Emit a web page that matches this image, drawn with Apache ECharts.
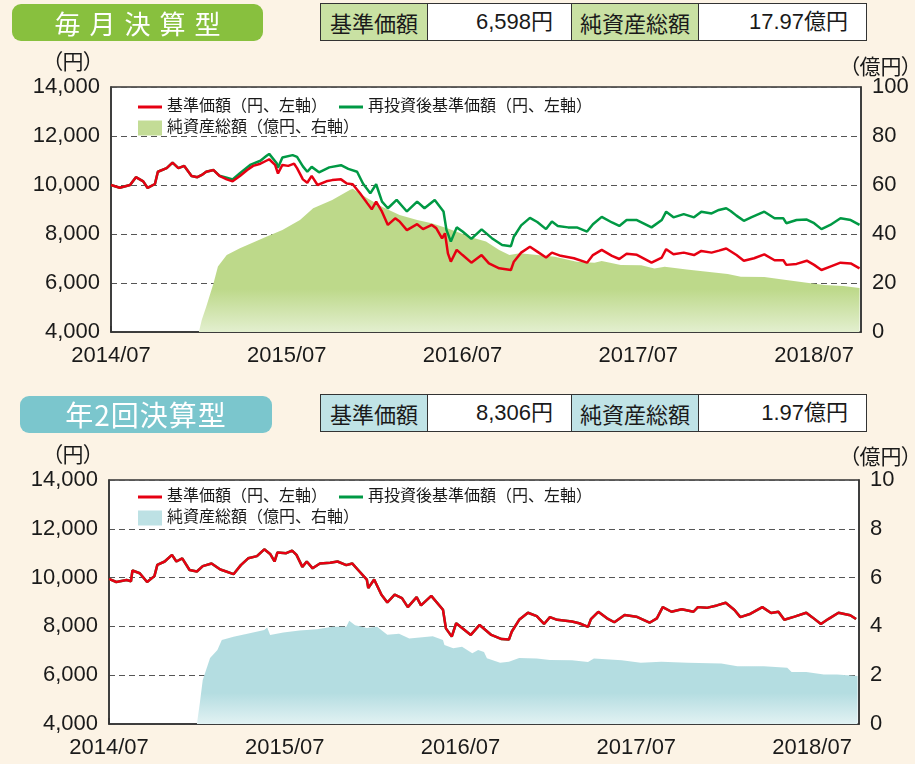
<!DOCTYPE html>
<html>
<head>
<meta charset="utf-8">
<script src="https://cdn.jsdelivr.net/npm/echarts@6/dist/echarts.min.js"></script>
<style>
  body { margin: 0; background: #fcf3e5; font-family: "Liberation Sans", "Noto Sans CJK JP", sans-serif; }
  #wrap { position: relative; width: 915px; height: 764px; }
  #chart { position: absolute; left: 0; top: 0; width: 915px; height: 764px; }
  .badge { position: absolute; color: #fff; text-align: center; border-radius: 9px;
           font-family: "Noto Sans CJK JP", sans-serif; }
  .tbl { position: absolute; border-collapse: collapse; font-size: 22px; color: #1a1a1a;
         font-family: "Liberation Sans", "Noto Sans CJK JP", sans-serif; }
  .tbl td { border: 1.5px solid #333; padding: 0; height: 36px; line-height: 36px; }
  .tbl td.lab { text-align: center; font-family: "Noto Sans CJK JP", sans-serif; }
  .tbl td.val { text-align: right; padding-right: 18px; background: #fff; }
  .unit { position: absolute; font-size: 21px; line-height: 24px; color: #1a1a1a;
          font-family: "Noto Sans CJK JP", sans-serif; font-feature-settings: "palt"; white-space: nowrap; }
</style>
</head>
<body>
<div id="wrap">
  <div id="chart"></div>
  <div class="badge" style="left:12px;top:4px;width:251px;height:37px;line-height:37px;background:#88c03e;font-size:26px;letter-spacing:9px;text-indent:9px;">毎月決算型</div>
  <table class="tbl" style="left:320px;top:3px;">
    <tr>
      <td class="lab" style="width:106px;background:#c9e1a3;">基準価額</td>
      <td class="val" style="width:125px;">6,598円</td>
      <td class="lab" style="width:126px;background:#c9e1a3;">純資産総額</td>
      <td class="val" style="width:149px;">17.97億円</td>
    </tr>
  </table>
  <div class="unit" style="left:52px;top:48px;">（円）</div>
  <div class="unit" style="left:849px;top:53px;">（億円）</div>

  <div class="badge" style="left:20px;top:396px;width:252px;height:37px;line-height:37px;background:#7bc6cd;font-size:28px;letter-spacing:1px;">年2回決算型</div>
  <table class="tbl" style="left:320px;top:394px;">
    <tr>
      <td class="lab" style="width:106px;background:#c0e3e6;">基準価額</td>
      <td class="val" style="width:125px;">8,306円</td>
      <td class="lab" style="width:126px;background:#c0e3e6;">純資産総額</td>
      <td class="val" style="width:149px;">1.97億円</td>
    </tr>
  </table>
  <div class="unit" style="left:52px;top:441px;">（円）</div>
  <div class="unit" style="left:849px;top:443px;">（億円）</div>
</div>
<script>
// x = months since 2014/07
var monthlyNav = [[0,10000],[0.6,9890],[1.3,10000],[1.7,10320],[2.2,10150],[2.5,9880],[3.0,10040],[3.2,10540],[3.8,10690],[4.2,10910],[4.6,10690],[5.0,10780],[5.5,10370],[5.9,10320],[6.2,10410],[6.5,10540],[7.0,10610],[7.4,10370],[7.9,10230],[8.3,10150],[8.8,10370],[9.3,10610],[9.7,10780],[10.2,10870],[10.6,10990],[10.8,11050],[11.2,10820],[11.4,10470],[11.7,10820],[12.1,10780],[12.5,10870],[12.7,10690],[13.1,10230],[13.4,10090],[13.7,10370],[14.1,10000],[14.7,10150],[15.1,10200],[15.7,10230],[16.1,10060],[16.5,10030],[17.0,9660],[17.5,9250],[17.8,9010],[18.1,9320],[18.5,8910],[18.9,8370],[19.4,8640],[19.7,8510],[20.2,8160],[20.9,8400],[21.3,8200],[21.9,8370],[22.2,8240],[22.6,7820],[22.8,8030],[23.0,7210],[23.2,6870],[23.6,7350],[24.0,7140],[24.6,6830],[25.3,7140],[25.8,6800],[26.5,6600],[27.3,6530],[27.5,6870],[28.0,7240],[28.6,7480],[29.1,7280],[29.7,7040],[30.1,7240],[30.7,7110],[31.6,7010],[32.5,6830],[32.9,7140],[33.5,7350],[34.2,7110],[34.7,6980],[35.2,7190],[35.9,7150],[36.9,6830],[37.6,7040],[37.9,7380],[38.4,7170],[39.1,7240],[39.8,7140],[40.3,7310],[41.0,7240],[41.5,7320],[42.0,7410],[42.7,7140],[43.2,6910],[43.9,7010],[44.6,7170],[45.3,6930],[45.9,6930],[46.1,6740],[46.8,6780],[47.5,6910],[48.0,6740],[48.5,6530],[49.1,6670],[49.8,6830],[50.5,6800],[51.1,6600]];

var monthlyReinvest = [[0,10000],[0.6,9890],[1.3,10000],[1.7,10320],[2.2,10150],[2.5,9880],[3.0,10040],[3.2,10540],[3.8,10690],[4.2,10910],[4.6,10690],[5.0,10780],[5.5,10370],[5.9,10320],[6.2,10410],[6.5,10540],[7.0,10610],[7.4,10380],[7.9,10300],[8.3,10230],[8.8,10480],[9.5,10820],[10.2,10990],[10.6,11180],[10.8,11270],[11.3,10900],[11.4,10700],[11.7,11120],[12.4,11220],[12.7,11150],[13.1,10760],[13.4,10540],[13.7,10740],[14.2,10520],[14.9,10720],[15.7,10810],[16.2,10660],[16.8,10540],[17.2,10060],[17.7,9660],[18.1,10030],[18.5,9320],[18.9,9050],[19.5,9390],[20.2,8920],[20.9,9320],[21.4,9050],[22.1,9390],[22.7,8920],[22.9,8170],[23.2,7690],[23.6,8270],[24.0,8100],[24.6,7800],[25.3,8190],[26.0,7830],[26.7,7550],[27.3,7500],[27.5,7890],[28.0,8350],[28.6,8660],[29.1,8490],[29.7,8200],[30.1,8510],[30.5,8330],[31.2,8270],[31.8,8270],[32.5,8100],[32.9,8400],[33.5,8700],[34.2,8470],[34.7,8330],[35.2,8570],[35.9,8570],[36.9,8270],[37.6,8570],[37.9,8910],[38.4,8680],[39.1,8810],[39.8,8680],[40.3,8910],[41.0,8840],[41.5,8980],[42.0,9050],[42.3,8940],[42.7,8750],[43.2,8540],[43.7,8680],[44.6,8910],[45.3,8640],[45.9,8640],[46.1,8440],[46.8,8570],[47.5,8590],[48.0,8440],[48.5,8200],[49.1,8370],[49.8,8640],[50.5,8570],[51.1,8370]];

var monthlyAssets = [[6.0,0],[6.2,5],[6.5,10.3],[7.0,19.9],[7.3,26.7],[7.9,31.4],[8.8,34.2],[9.7,36.5],[10.6,38.9],[11.7,41.6],[12.9,45.7],[13.8,50.5],[15.1,53.9],[16.3,58.0],[16.5,58.5],[17.5,54.6],[18.5,51.1],[19.7,47.8],[20.9,45.7],[21.9,44.4],[22.9,42.4],[23.6,40.9],[24.7,38.5],[25.6,36.9],[26.5,33.5],[27.2,31.4],[27.9,32.1],[29.1,31.4],[30.3,30.7],[31.8,28.7],[33.0,28.3],[33.5,29.0],[34.8,27.3],[36.2,27.2],[37.1,25.9],[37.8,26.6],[39.3,25.5],[40.7,24.6],[42.1,23.7],[43.0,22.6],[44.6,22.5],[46.1,21.2],[47.5,20.1],[48.7,19.2],[50.0,18.8],[51.1,18.0]];

var semiNav = [[0,9950],[0.5,9820],[1.2,9900],[1.5,9850],[1.6,10290],[2.1,10180],[2.6,9820],[3.1,10060],[3.3,10520],[3.8,10660],[4.3,10930],[4.6,10660],[5.0,10790],[5.5,10310],[6.0,10250],[6.4,10470],[7.0,10580],[7.6,10330],[8.0,10250],[8.5,10140],[9.0,10510],[9.5,10790],[10.1,10880],[10.6,11160],[11.0,10970],[11.3,10660],[11.5,11030],[12.1,11000],[12.5,11110],[12.8,10930],[13.2,10440],[13.5,10660],[13.9,10380],[14.4,10580],[15.1,10610],[15.6,10660],[16.2,10510],[16.6,10580],[17.1,10250],[17.6,9920],[17.7,9570],[18.1,9920],[18.6,9300],[19.0,8980],[19.5,9300],[20.0,9160],[20.4,8790],[21.0,9200],[21.3,8860],[22.0,9250],[22.8,8680],[23.0,7920],[23.4,7580],[23.7,8130],[24.7,7650],[25.3,8060],[26.1,7650],[26.8,7480],[27.3,7460],[27.5,7790],[28.0,8270],[28.6,8560],[29.2,8420],[29.7,8100],[30.1,8380],[30.6,8270],[31.6,8200],[32.1,8130],[32.7,7980],[32.9,8300],[33.4,8600],[34.0,8330],[34.5,8170],[35.2,8470],[36.0,8400],[36.9,8150],[37.4,8330],[37.8,8790],[38.4,8600],[39.1,8700],[39.9,8600],[40.2,8790],[40.8,8760],[41.5,8860],[42.1,8970],[42.7,8670],[43.1,8380],[43.8,8520],[44.6,8790],[45.2,8550],[45.7,8600],[46.1,8270],[46.8,8400],[47.6,8560],[48.0,8380],[48.6,8100],[49.1,8300],[49.8,8560],[50.6,8460],[51.0,8300]];

// no distributions paid, so the reinvested price equals the NAV
var semiReinvest = semiNav;

var semiAssets = [[6.0,0],[6.2,0.85],[6.4,1.8],[6.9,2.7],[7.4,3.03],[7.7,3.44],[8.5,3.58],[9.6,3.72],[10.6,3.85],[10.8,3.96],[11.0,3.65],[11.9,3.75],[13.0,3.83],[14.2,3.88],[15.3,3.99],[16.2,3.99],[16.4,4.23],[16.8,4.05],[17.6,3.93],[18.3,3.99],[19.0,3.66],[19.8,3.7],[20.5,3.5],[22.1,3.6],[22.8,3.44],[22.9,3.24],[23.5,3.1],[24.1,3.17],[24.8,2.9],[25.2,3.03],[25.6,2.95],[25.8,2.69],[26.7,2.51],[27.3,2.55],[28.0,2.7],[29.2,2.68],[30.1,2.62],[31.6,2.61],[32.7,2.54],[33.1,2.68],[35.0,2.61],[36.3,2.51],[37.7,2.55],[39.5,2.51],[41.8,2.48],[42.9,2.37],[44.7,2.37],[46.3,2.31],[46.6,2.13],[47.6,2.13],[48.8,2.03],[49.7,2.03],[51.1,1.97]];

var navName = '基準価額（円、左軸）';
var reinvName = '再投資後基準価額（円、左軸）';
var assetName = '純資産総額（億円、右軸）';

var RED = '#e60012', GREEN = '#009944';
var FONT = '"Liberation Sans", "Noto Sans CJK JP", sans-serif';

var chart = echarts.init(document.getElementById('chart'));

function xAxisCfg(grid) {
  return {
    type: 'value', gridIndex: grid, min: 0, max: 51.2, interval: 12,
    axisLine: { lineStyle: { color: '#333', width: 1.5 } },
    axisTick: { inside: true, length: 6, lineStyle: { color: '#333', width: 1.5 } },
    axisLabel: {
      fontSize: 22, color: '#1a1a1a', fontFamily: FONT, margin: 13, showMaxLabel: false,
      formatter: function (v) {
        var t = 6 + Math.round(v);
        var y = 2014 + Math.floor(t / 12), m = (t % 12) + 1;
        return y + '/' + (m < 10 ? '0' + m : m);
      }
    },
    splitLine: { show: false }
  };
}
function leftAxisCfg(grid) {
  return {
    type: 'value', gridIndex: grid, min: 4000, max: 14000, interval: 2000,
    axisLine: { show: true, lineStyle: { color: '#333', width: 1.5 } },
    axisTick: { show: false },
    axisLabel: { fontSize: 22, color: '#1a1a1a', fontFamily: FONT, margin: 11 },
    splitLine: { show: true, lineStyle: { color: '#555', type: [6, 4], width: 1.2 } }
  };
}
function rightAxisCfg(grid, max, step) {
  return {
    type: 'value', gridIndex: grid, position: 'right', min: 0, max: max, interval: step,
    axisLine: { show: true, lineStyle: { color: '#333', width: 1.5 } },
    axisTick: { show: false },
    axisLabel: { fontSize: 22, color: '#1a1a1a', fontFamily: FONT, margin: 11 },
    splitLine: { show: false }
  };
}
function areaSeries(data, xi, yi, top, bottom, solid) {
  return {
    name: assetName, type: 'line', xAxisIndex: xi, yAxisIndex: yi, data: data,
    showSymbol: false, silent: true, color: solid,
    lineStyle: { width: 0 },
    areaStyle: {
      opacity: 1,
      color: new echarts.graphic.LinearGradient(0, 0, 0, 1, [
        { offset: 0, color: top }, { offset: 0.7, color: top }, { offset: 1, color: bottom }
      ])
    }
  };
}
function lineSeries(name, data, xi, yi, color) {
  return {
    name: name, type: 'line', xAxisIndex: xi, yAxisIndex: yi, data: data,
    showSymbol: false, color: color, lineStyle: { width: 2.5, color: color }
  };
}
function legendRows(top1, top2, areaColor) {
  var txt = { fontSize: 16, color: '#1a1a1a', fontFamily: FONT };
  return [
    { left: 133, top: top1, icon: 'rect', itemWidth: 24, itemHeight: 3, itemGap: 12,
      textStyle: txt, selectedMode: false,
      data: [{ name: navName, itemStyle: { color: RED } },
             { name: reinvName, itemStyle: { color: GREEN } }] },
    { left: 133, top: top2, icon: 'rect', itemWidth: 24, itemHeight: 15,
      textStyle: txt, selectedMode: false,
      data: [{ name: assetName, itemStyle: { color: areaColor } }] }
  ];
}

var option = {
  backgroundColor: 'transparent',
  animation: false,
  grid: [
    { left: 111, top: 87, width: 750, height: 245, show: true, backgroundColor: '#fff',
      borderColor: '#333', borderWidth: 1.5 },
    { left: 109, top: 480, width: 750, height: 244, show: true, backgroundColor: '#fff',
      borderColor: '#333', borderWidth: 1.5 }
  ],
  legend: legendRows(94, 115, '#c3dc96').concat(legendRows(484, 505, '#bde1e4')),
  xAxis: [xAxisCfg(0), xAxisCfg(1)],
  yAxis: [leftAxisCfg(0), rightAxisCfg(0, 100, 20), leftAxisCfg(1), rightAxisCfg(1, 10, 2)],
  series: [
    areaSeries(monthlyAssets, 0, 1, '#bdd98a', '#e3efcf', '#c3dc96'),
    lineSeries(reinvName, monthlyReinvest, 0, 0, GREEN),
    lineSeries(navName, monthlyNav, 0, 0, RED),
    areaSeries(semiAssets, 1, 3, '#b4dde1', '#e2f2f3', '#bde1e4'),
    lineSeries(reinvName, semiReinvest, 1, 2, GREEN),
    lineSeries(navName, semiNav, 1, 2, RED)
  ]
};
chart.setOption(option);
</script>
</body>
</html>
